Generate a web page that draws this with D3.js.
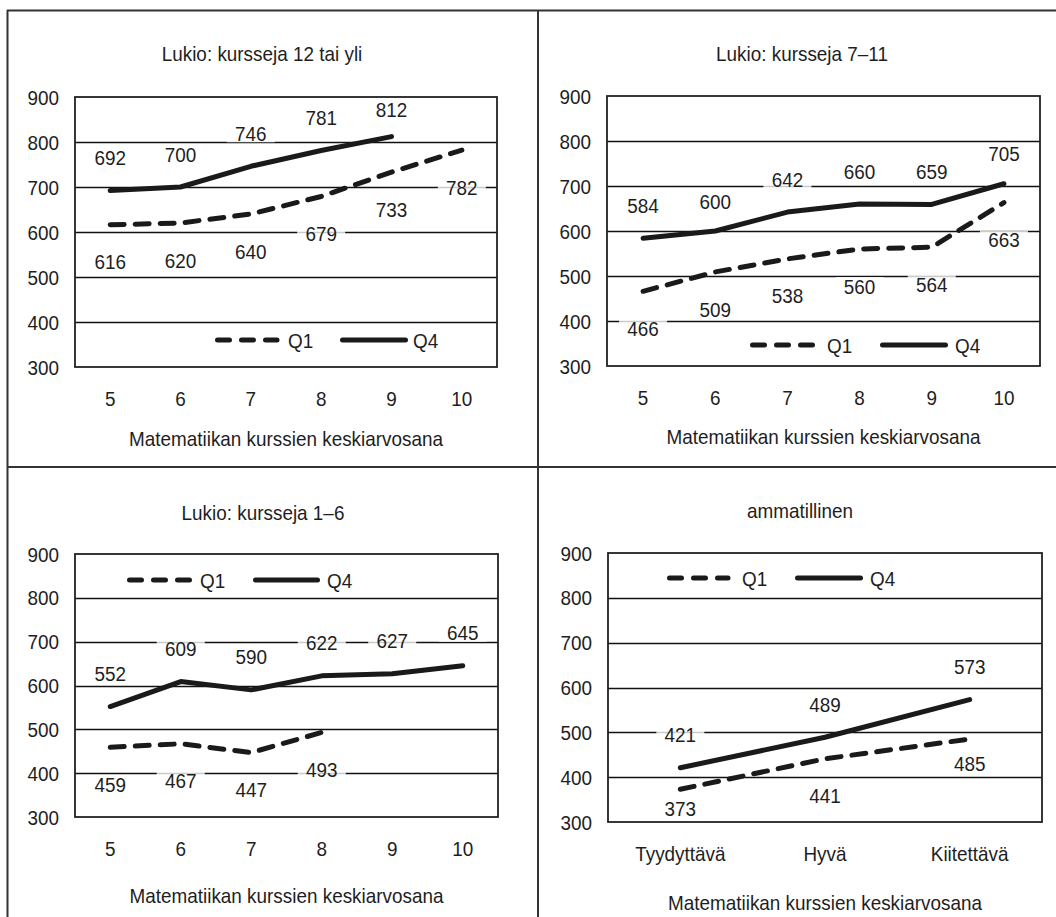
<!DOCTYPE html>
<html lang="fi">
<head>
<meta charset="utf-8">
<title>Matematiikan kurssien keskiarvosana – Q1 ja Q4</title>
<script src="https://cdn.jsdelivr.net/npm/d3@7"></script>
<style>
  html, body { margin: 0; padding: 0; background: #fff; }
  svg { display: block; }
  text { font-family: "Liberation Sans", Arial, "Helvetica", sans-serif; fill: #1e1e1e; }
</style>
</head>
<body>
<div id="chart"></div>
<script>
// ---- data ----
const gradeCats = ["5", "6", "7", "8", "9", "10"];
const vocCats = ["Tyydyttävä", "Hyvä", "Kiitettävä"];
const yTicks = [300, 400, 500, 600, 700, 800, 900];
const seriesNames = ["Q1", "Q4"];
const axisTitle = "Matematiikan kurssien keskiarvosana";

const titles = ["Lukio: kursseja 12 tai yli", "Lukio: kursseja 7–11", "Lukio: kursseja 1–6", "ammatillinen"];

const lukio12Q1 = [616, 620, 640, 679, 733, 782];
const lukio12Q4 = [692, 700, 746, 781, 812, null];
const lukio7Q1 = [466, 509, 538, 560, 564, 663];
const lukio7Q4 = [584, 600, 642, 660, 659, 705];
const lukio1Q1 = [459, 467, 447, 493, null, null];
const lukio1Q4 = [552, 609, 590, 622, 627, 645];
const ammQ1 = [373, 441, 485];
const ammQ4 = [421, 489, 573];

// ---- layout ----
const W = 1056, H = 917;
const FS = 21;          // font size (glyph height)
const SX = 0.9;         // horizontal condensing of the type
const panels = [
  { title: titles[0], cats: gradeCats, q1: lukio12Q1, q4: lukio12Q4,
    plot: { x0: 75, x1: 497, y0: 97, y1: 367 }, titleX: 262, titleY: 53, tickY: 398, axisY: 438,
    legend: { y: 340, d0: 215, d1: 277, t1: 288, s0: 340, s1: 408, t4: 413 },
    nudgeQ1: {}, nudgeQ4: { 4: 6 } },
  { title: titles[1], cats: gradeCats, q1: lukio7Q1, q4: lukio7Q4,
    plot: { x0: 607, x1: 1040, y0: 96, y1: 366 }, titleX: 802, titleY: 53, tickY: 397, axisY: 436,
    legend: { y: 345, d0: 750, d1: 813, t1: 827, s0: 880, s1: 948, t4: 955 },
    nudgeQ1: {}, nudgeQ4: { 1: 3, 5: 3 } },
  { title: titles[2], cats: gradeCats, q1: lukio1Q1, q4: lukio1Q4,
    plot: { x0: 75, x1: 498, y0: 554, y1: 817 }, titleX: 263, titleY: 512, tickY: 848, axisY: 895,
    legend: { y: 580, d0: 127, d1: 190, t1: 200, s0: 253, s1: 320, t4: 327 },
    nudgeQ1: {}, nudgeQ4: {} },
  { title: titles[3], cats: vocCats, q1: ammQ1, q4: ammQ4,
    plot: { x0: 608, x1: 1042, y0: 553, y1: 822 }, titleX: 800, titleY: 510, tickY: 853, axisY: 902,
    legend: { y: 578, d0: 667, d1: 728, t1: 742, s0: 795, s1: 863, t4: 870 },
    nudgeQ1: { 0: -18, 2: -13 }, nudgeQ4: {} }
];
const Q4_LABEL_DY = -33, Q1_LABEL_DY = 37;
const DASH = "14,11";
const LINE_W = 5;

const svg = d3.select("#chart").append("svg")
  .attr("width", W).attr("height", H).attr("viewBox", `0 0 ${W} ${H}`);

// condensed text placed with its visual centre at y
function label(g, x, y, str, anchor) {
  return g.append("text")
    .attr("transform", `translate(${x},${y + FS * 0.36}) scale(${SX},1)`)
    .attr("text-anchor", anchor || "middle")
    .attr("font-size", FS)
    .text(str);
}

// panel frame
const frame = svg.append("g").attr("stroke", "#333").attr("stroke-width", 2).attr("fill", "none");
frame.append("line").attr("x1", 7).attr("x2", W).attr("y1", 10.5).attr("y2", 10.5);
frame.append("line").attr("x1", 7.5).attr("x2", 7.5).attr("y1", 10).attr("y2", H);
frame.append("line").attr("x1", 538).attr("x2", 538).attr("y1", 10).attr("y2", H);
frame.append("line").attr("x1", 7).attr("x2", W).attr("y1", 467).attr("y2", 467);

panels.forEach(p => {
  const g = svg.append("g");
  const x = d3.scaleBand().domain(p.cats).range([p.plot.x0, p.plot.x1]);
  const y = d3.scaleLinear().domain([300, 900]).range([p.plot.y1, p.plot.y0]);
  const cx = c => x(c) + x.bandwidth() / 2;

  // title
  label(g, p.titleX, p.titleY, p.title);

  // gridlines
  g.append("g").selectAll("line").data(yTicks.slice(1, -1)).join("line")
    .attr("x1", p.plot.x0).attr("x2", p.plot.x1)
    .attr("y1", d => Math.round(y(d)) + 0.5).attr("y2", d => Math.round(y(d)) + 0.5)
    .attr("stroke", "#111").attr("stroke-width", 1.6);

  // plot border
  g.append("rect").attr("x", p.plot.x0).attr("y", p.plot.y0)
    .attr("width", p.plot.x1 - p.plot.x0).attr("height", p.plot.y1 - p.plot.y0)
    .attr("fill", "none").attr("stroke", "#222").attr("stroke-width", 1.8);

  // y axis labels
  const ya = g.append("g");
  yTicks.forEach(t => label(ya, p.plot.x0 - 16, y(t), t, "end"));

  // x axis labels
  const xa = g.append("g");
  p.cats.forEach(c => label(xa, cx(c), p.tickY, c));

  // axis title
  label(g, (p.plot.x0 + p.plot.x1) / 2, p.axisY, axisTitle);

  // legend
  const L = p.legend;
  g.append("line").attr("x1", L.d0 + 2.5).attr("x2", L.d1).attr("y1", L.y).attr("y2", L.y)
    .attr("stroke", "#1a1a1a").attr("stroke-width", LINE_W).attr("stroke-linecap", "round")
    .attr("stroke-dasharray", "12,12");
  label(g, L.t1, L.y, seriesNames[0], "start");
  g.append("line").attr("x1", L.s0 + 2.5).attr("x2", L.s1 - 2.5).attr("y1", L.y).attr("y2", L.y)
    .attr("stroke", "#1a1a1a").attr("stroke-width", LINE_W).attr("stroke-linecap", "round");
  label(g, L.t4, L.y, seriesNames[1], "start");

  // series lines
  const line = d3.line()
    .defined(d => d.v != null)
    .x(d => cx(d.c)).y(d => y(d.v));
  const pts = arr => p.cats.map((c, i) => ({ c, v: arr[i], i }));

  g.append("path").datum(pts(p.q1)).attr("d", line)
    .attr("fill", "none").attr("stroke", "#1a1a1a").attr("stroke-width", LINE_W)
    .attr("stroke-linecap", "round").attr("stroke-linejoin", "round")
    .attr("stroke-dasharray", DASH);
  g.append("path").datum(pts(p.q4)).attr("d", line)
    .attr("fill", "none").attr("stroke", "#1a1a1a").attr("stroke-width", LINE_W)
    .attr("stroke-linecap", "round").attr("stroke-linejoin", "round");

  // value labels with translucent backing
  const labels = [];
  pts(p.q4).filter(d => d.v != null).forEach(d =>
    labels.push({ x: cx(d.c), y: y(d.v) + Q4_LABEL_DY + (p.nudgeQ4[d.i] || 0), v: d.v }));
  pts(p.q1).filter(d => d.v != null).forEach(d =>
    labels.push({ x: cx(d.c), y: y(d.v) + Q1_LABEL_DY + (p.nudgeQ1[d.i] || 0), v: d.v }));

  const lg = g.append("g");
  labels.forEach(l => {
    const w = 48, h = 18;
    lg.append("rect").attr("x", l.x - w / 2).attr("y", l.y - h / 2)
      .attr("width", w).attr("height", h).attr("fill", "#fff").attr("fill-opacity", 0.78);
    label(lg, l.x, l.y, l.v);
  });
});
</script>
</body>
</html>
